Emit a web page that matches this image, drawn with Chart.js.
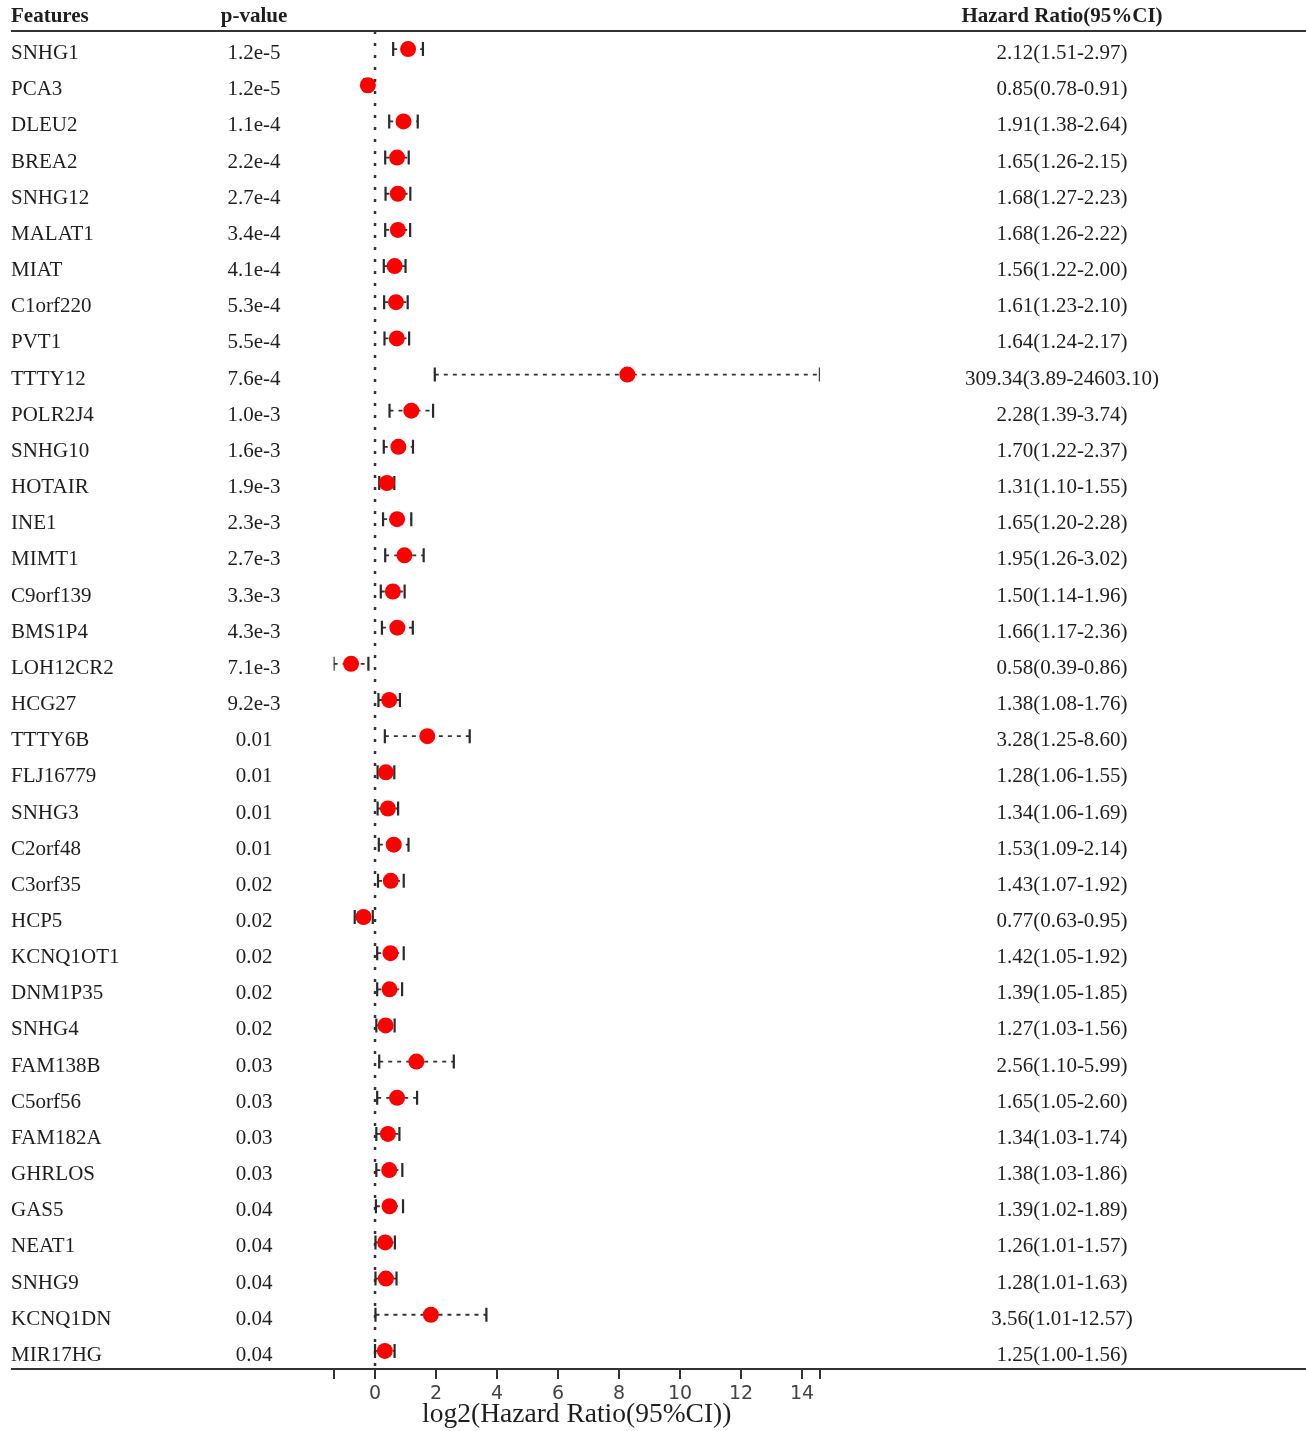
<!DOCTYPE html>
<html>
<head>
<meta charset="utf-8">
<script src="https://cdn.jsdelivr.net/npm/chart.js@4.4.0/dist/chart.umd.min.js"></script>
<style>
  body { margin: 0; background: #fff; }
  canvas { display: block; }
</style>
</head>
<body>
<canvas id="Chart" width="1306" height="1431"></canvas>
<script>
//table data
var features = ["SNHG1", "PCA3", "DLEU2", "BREA2", "SNHG12", "MALAT1", "MIAT", "C1orf220", "PVT1", "TTTY12",
  "POLR2J4", "SNHG10", "HOTAIR", "INE1", "MIMT1", "C9orf139", "BMS1P4", "LOH12CR2", "HCG27", "TTTY6B",
  "FLJ16779", "SNHG3", "C2orf48", "C3orf35", "HCP5", "KCNQ1OT1", "DNM1P35", "SNHG4", "FAM138B", "C5orf56",
  "FAM182A", "GHRLOS", "GAS5", "NEAT1", "SNHG9", "KCNQ1DN", "MIR17HG"];
var pValues = ["1.2e-5", "1.2e-5", "1.1e-4", "2.2e-4", "2.7e-4", "3.4e-4", "4.1e-4", "5.3e-4", "5.5e-4", "7.6e-4",
  "1.0e-3", "1.6e-3", "1.9e-3", "2.3e-3", "2.7e-3", "3.3e-3", "4.3e-3", "7.1e-3", "9.2e-3", "0.01",
  "0.01", "0.01", "0.01", "0.02", "0.02", "0.02", "0.02", "0.02", "0.03", "0.03",
  "0.03", "0.03", "0.04", "0.04", "0.04", "0.04", "0.04"];
var hr = [2.12, 0.85, 1.91, 1.65, 1.68, 1.68, 1.56, 1.61, 1.64, 309.34,
  2.28, 1.70, 1.31, 1.65, 1.95, 1.50, 1.66, 0.58, 1.38, 3.28,
  1.28, 1.34, 1.53, 1.43, 0.77, 1.42, 1.39, 1.27, 2.56, 1.65,
  1.34, 1.38, 1.39, 1.26, 1.28, 3.56, 1.25];
var lower = [1.51, 0.78, 1.38, 1.26, 1.27, 1.26, 1.22, 1.23, 1.24, 3.89,
  1.39, 1.22, 1.10, 1.20, 1.26, 1.14, 1.17, 0.39, 1.08, 1.25,
  1.06, 1.06, 1.09, 1.07, 0.63, 1.05, 1.05, 1.03, 1.10, 1.05,
  1.03, 1.03, 1.02, 1.01, 1.01, 1.01, 1.00];
var upper = [2.97, 0.91, 2.64, 2.15, 2.23, 2.22, 2.00, 2.10, 2.17, 24603.10,
  3.74, 2.37, 1.55, 2.28, 3.02, 1.96, 2.36, 0.86, 1.76, 8.60,
  1.55, 1.69, 2.14, 1.92, 0.95, 1.92, 1.85, 1.56, 5.99, 2.60,
  1.74, 1.86, 1.89, 1.57, 1.63, 12.57, 1.56];
var tickLabels = [0, 2, 4, 6, 8, 10, 12, 14];

var serif = "'Liberation Serif', 'Times New Roman', serif";
var ink = "#1e1e1e";

//axis runs from lowest lower CI to highest upper CI
var xMin = Math.log2(Math.min.apply(null, lower));
var xMax = Math.log2(Math.max.apply(null, upper));
var n = features.length;

//build datasets
var dots = [];
var ci = [];
for (var i = 0; i < n; i++) {
  dots.push({ x: Math.log2(hr[i]), y: i });
  ci.push({ x: Math.log2(lower[i]), y: i });
  ci.push({ x: Math.log2(upper[i]), y: i });
  ci.push({ x: Math.log2(upper[i]), y: null });
}

function fmt(v) {
  return v.toFixed(2);
}

//draws the table columns and the two rules
var tablePlugin = {
  id: "table",
  afterDraw: function (chart) {
    var ctx = chart.ctx;
    var y = chart.scales.y;
    var area = chart.chartArea;
    ctx.save();

    //rules
    ctx.strokeStyle = "#333";
    ctx.lineWidth = 2;
    ctx.beginPath();
    ctx.moveTo(11, area.top);
    ctx.lineTo(1306, area.top);
    ctx.moveTo(11, area.bottom);
    ctx.lineTo(1306, area.bottom);
    ctx.stroke();

    //header
    ctx.fillStyle = ink;
    ctx.textBaseline = "middle";
    ctx.font = "bold 21px " + serif;
    ctx.textAlign = "left";
    ctx.fillText("Features", 11, 17);
    ctx.textAlign = "center";
    ctx.fillText("p-value", 254, 17);
    ctx.fillText("Hazard Ratio(95%CI)", 1062, 17);

    //rows
    ctx.font = "21px " + serif;
    for (var i = 0; i < n; i++) {
      var py = y.getPixelForValue(i) + 4.5;
      ctx.textAlign = "left";
      ctx.fillText(features[i], 11, py);
      ctx.textAlign = "center";
      ctx.fillText(pValues[i], 254, py);
      ctx.fillText(fmt(hr[i]) + "(" + fmt(lower[i]) + "-" + fmt(upper[i]) + ")", 1062, py);
    }
    ctx.restore();
  },
};

var ctx = document.getElementById("Chart").getContext("2d");

var myChart = new Chart(ctx, {
  type: "scatter",
  data: {
    datasets: [
      {
        label: "HR",
        data: dots,
        order: 0,
        pointRadius: 8,
        pointBackgroundColor: "#ff0000",
        pointBorderWidth: 0,
        pointBorderColor: "#ff0000",
      },
      {
        label: "CI",
        data: ci,
        order: 1,
        showLine: true,
        spanGaps: false,
        borderColor: "#333",
        borderWidth: 1.8,
        borderDash: [4, 5],
        pointStyle: "line",
        rotation: 90,
        pointRadius: 7,
        pointBorderWidth: 2.2,
        pointBorderColor: "#2a2a2a",
      },
      {
        label: "ref",
        data: [{ x: 0, y: -0.5 }, { x: 0, y: n - 0.5 }],
        order: 2,
        showLine: true,
        borderColor: "#333",
        borderWidth: 2.5,
        borderDash: [3, 9],
        pointRadius: 0,
      },
    ],
  },
  options: {
    responsive: false,
    animation: false,
    devicePixelRatio: 1,
    layout: {
      padding: { top: 31, left: 333.6, right: 1306 - 819.9, bottom: 0 },
    },
    plugins: {
      legend: { display: false },
      tooltip: { enabled: false },
    },
    scales: {
      x: {
        type: "linear",
        min: xMin,
        max: xMax,
        afterBuildTicks: function (scale) {
          var vals = [xMin].concat(tickLabels, [xMax]);
          scale.ticks = vals.map(function (v) {
            return { value: v };
          });
        },
        afterFit: function (scale) {
          scale.height = 62;
        },
        ticks: {
          autoSkip: false,
          maxRotation: 0,
          padding: 4,
          color: "#444",
          font: { family: "'DejaVu Sans', sans-serif", size: 19 },
          callback: function (v) {
            return Number.isInteger(v) ? v : "";
          },
        },
        grid: {
          drawOnChartArea: false,
          drawTicks: true,
          tickLength: 10,
          color: "#333",
          lineWidth: 2,
        },
        border: { display: false },
        title: {
          display: true,
          text: "log2(Hazard Ratio(95%CI))",
          color: ink,
          font: { family: serif, size: 27.5 },
          padding: 0,
        },
      },
      y: {
        type: "linear",
        display: false,
        reverse: true,
        min: -0.5,
        max: n - 0.5,
      },
    },
  },
  plugins: [tablePlugin],
});
</script>
</body>
</html>
